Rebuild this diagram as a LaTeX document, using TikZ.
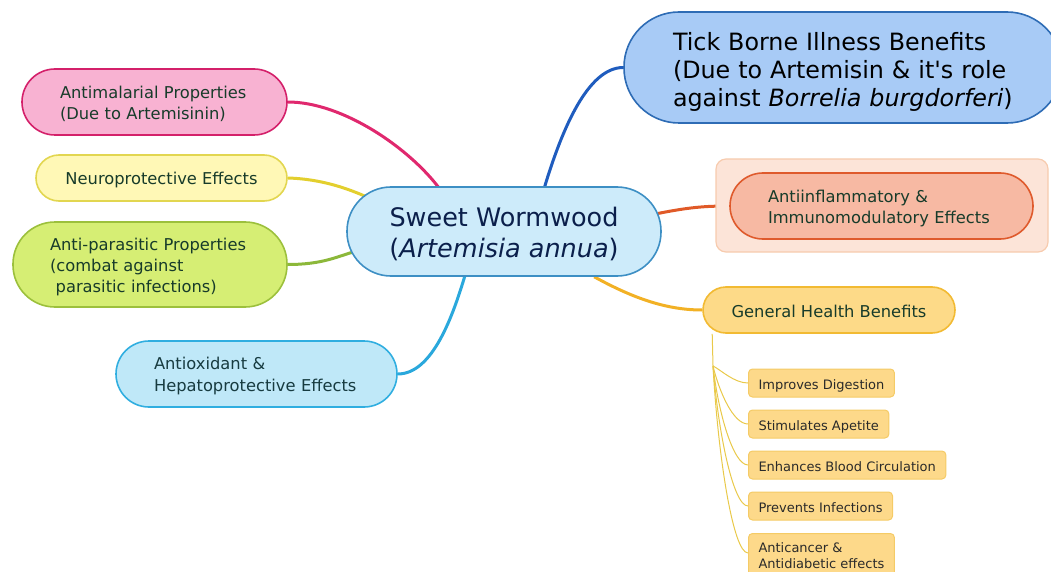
\documentclass[tikz,border=0pt]{standalone}
\usepackage{fontspec}
\setmainfont{DejaVu Sans}
\usetikzlibrary{calc,backgrounds}
\definecolor{pinkF}{HTML}{F8B2D2}
\definecolor{pinkD}{HTML}{D4206A}
\definecolor{pinkL}{HTML}{E0286E}
\definecolor{neuF}{HTML}{FFF8B6}
\definecolor{neuD}{HTML}{E2D650}
\definecolor{neuL}{HTML}{E3CF2E}
\definecolor{parF}{HTML}{D6EE74}
\definecolor{parD}{HTML}{9CC03C}
\definecolor{parL}{HTML}{8CB83A}
\definecolor{oxF}{HTML}{BFE8F8}
\definecolor{oxD}{HTML}{30AEE0}
\definecolor{oxL}{HTML}{2AA8DC}
\definecolor{cenF}{HTML}{CDEBFA}
\definecolor{cenD}{HTML}{3D8FC4}
\definecolor{tickF}{HTML}{A8CBF6}
\definecolor{tickD}{HTML}{2E6CB5}
\definecolor{tickL}{HTML}{1F5CBE}
\definecolor{aioF}{HTML}{FCE4D8}
\definecolor{aioD}{HTML}{F7CBAE}
\definecolor{aiF}{HTML}{F7B9A3}
\definecolor{aiD}{HTML}{DF5A2C}
\definecolor{aiL}{HTML}{E05A28}
\definecolor{ghF}{HTML}{FDDA88}
\definecolor{ghD}{HTML}{F2BA32}
\definecolor{ghL}{HTML}{F2B125}
\definecolor{subF}{HTML}{FDD98A}
\definecolor{subD}{HTML}{F5CB66}
\definecolor{treeL}{HTML}{E9C94A}
\definecolor{tgreen}{HTML}{173B2A}
\definecolor{tteal}{HTML}{173B40}
\definecolor{tnavy}{HTML}{0B1F4B}
\definecolor{tsub}{HTML}{2A2A2A}
\newcommand{\sidefont}{\fontsize{16.3}{21}\selectfont}
\begin{document}
\begin{tikzpicture}[x=1pt,y=-1pt,
  pill/.style={draw, line width=1.6pt, rectangle, inner sep=0pt},
  lbl/.style={inner sep=0pt, font=\sidefont, text=tgreen},
  branch/.style={line width=3pt},
  subbox/.style={draw=subD, fill=subF, line width=1pt, rounded corners=4pt, minimum height=28pt, inner xsep=10pt, inner ysep=0pt, text=tsub, font=\fontsize{13}{16}\selectfont},
  tree/.style={draw=treeL, line width=1pt}]
\useasboundingbox (0,0) rectangle (1051,572);

% center
\node[pill, fill=cenF, draw=cenD, minimum width=314pt, minimum height=89pt, rounded corners=44pt] (c) at (504,231.5) {};
\node[lbl, align=center, text=tnavy, font=\fontsize{25.5}{31}\selectfont] (c-t) at ($(c.center)+(0,2)$) {Sweet Wormwood\\(\textit{Artemisia annua})};

% left nodes
\node[pill, fill=pinkF, draw=pinkD, minimum width=265pt, minimum height=66pt, rounded corners=33pt] (am) at (154.5,102) {};
\node[lbl, text width=189pt, align=left] (am-t) at ($(am.center)+(0,2)$) {Antimalarial Properties\\(Due to Artemisinin)};

\node[pill, fill=neuF, draw=neuD, minimum width=251pt, minimum height=46pt, rounded corners=23pt] (ne) at (161.5,178) {};
\node[lbl] (ne-t) at ($(ne.center)+(0,2.5)$) {Neuroprotective Effects};

\node[pill, fill=parF, draw=parD, minimum width=274pt, minimum height=85pt, rounded corners=42pt] (pa) at (150,264.5) {};
\node[lbl, text width=200pt, align=left] (pa-t) at ($(pa.center)+(0,2.5)$) {Anti-parasitic Properties\\(combat against\\\hspace*{0.35em}parasitic infections)};

\node[pill, fill=oxF, draw=oxD, minimum width=281pt, minimum height=66pt, rounded corners=33pt] (ox) at (256.5,374) {};
\node[lbl, text width=205pt, align=left, text=tteal] (ox-t) at ($(ox.center)+(0,2)$) {Antioxidant \&\\Hepatoprotective Effects};

% right nodes
\node[pill, fill=tickF, draw=tickD, minimum width=438pt, minimum height=111pt, rounded corners=55pt] (tk) at (843,67.5) {};
\node[lbl, text width=340pt, align=left, text=black, font=\fontsize{23.8}{28}\selectfont] (tk-t) at ($(tk.center)+(0,4)$) {Tick Borne Illness Benefits\\(Due to Artemisin \& it\textquotesingle s role\\against \textit{Borrelia burgdorferi})};

\node[draw=aioD, fill=aioF, line width=1.2pt, rounded corners=10pt, minimum width=332pt, minimum height=93pt] (aio) at (882,205.5) {};
\node[pill, fill=aiF, draw=aiD, minimum width=303pt, minimum height=66pt, rounded corners=33pt] (ai) at (881.5,206) {};
\node[lbl, text width=227pt, align=left] (ai-t) at ($(ai.center)+(0,2.5)$) {Antiinflammatory \&\\Immunomodulatory Effects};

\node[pill, fill=ghF, draw=ghD, minimum width=252pt, minimum height=46pt, rounded corners=23pt] (gh) at (829,310) {};
\node[lbl] (gh-t) at ($(gh.center)+(0,1.5)$) {General Health Benefits};

% sub nodes
\node[subbox, anchor=west, text height=15pt, text depth=3pt] (s1) at (748,383) {Improves Digestion};
\node[subbox, anchor=west, text height=15pt, text depth=3pt] (s2) at (748,424) {Stimulates Apetite};
\node[subbox, anchor=west, text height=15pt, text depth=3pt] (s3) at (748,465) {Enhances Blood Circulation};
\node[subbox, anchor=west, text height=15pt, text depth=3pt] (s4) at (748,506) {Prevents Infections};
\node[subbox, anchor=north west, align=left, inner ysep=4pt, minimum height=44pt] (s5) at (748,533) {Anticancer \&\\Antidiabetic effects};

\coordinate (j) at (713,366);

\begin{scope}[on background layer]
\draw[branch, pinkL] (am.east) .. controls +(55,0) and +(-30,-40) .. ($(c.north west)+(93,2)$);
\draw[branch, neuL] (ne.east) .. controls +(35,1) and +(-18,-8) .. ($(c.center)+(-136,-34)$);
\draw[branch, parL] (pa.east) .. controls +(35,0) and +(-18,5) .. ($(c.center)+(-149,20)$);
\draw[branch, oxL] (ox.east) .. controls +(35,0) and +(-12,40) .. ($(c.south west)+(119,-2)$);
\draw[branch, tickL] ($(c.north west)+(198,2)$) .. controls +(18,-60) and +(-35,0) .. (tk.west);
\draw[branch, aiL] ($(c.east)+(-4,-18)$) .. controls +(30,-6) and +(-25,0) .. (ai.west);
\draw[branch, ghL] ($(c.south west)+(248,0)$) .. controls +(40,22) and +(-35,0) .. (gh.west);
\draw[tree] ($(gh.south west)+(10,0)$) -- (j);
\draw[tree] (j) .. controls +(8,4) and +(-14,0) .. (s1.west);
\draw[tree] (j) .. controls +(6,25) and +(-15,0) .. (s2.west);
\draw[tree] (j) .. controls +(5,45) and +(-15,0) .. (s3.west);
\draw[tree] (j) .. controls +(5,65) and +(-15,0) .. (s4.west);
\draw[tree] (j) .. controls +(5,90) and +(-15,0) .. ($(s5.north west)+(0,20)$);
\end{scope}
\end{tikzpicture}
\end{document}
